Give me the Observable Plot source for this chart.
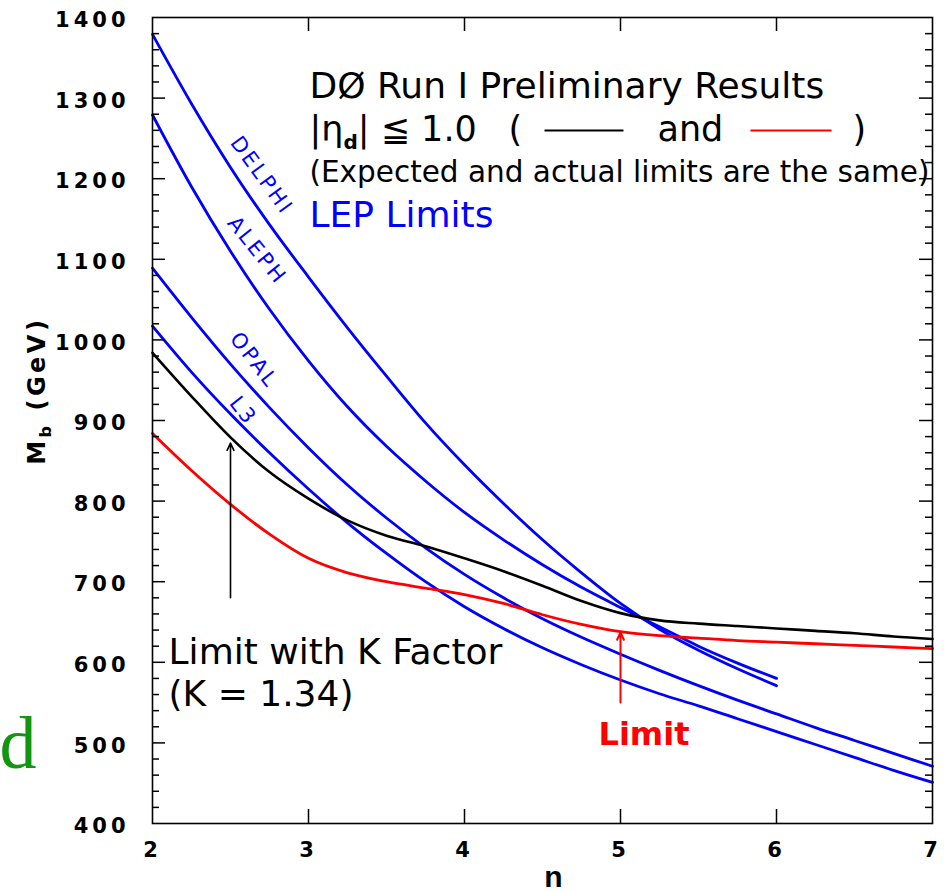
<!DOCTYPE html>
<html>
<head>
<meta charset="utf-8">
<script src="https://cdn.jsdelivr.net/npm/d3@7"></script>
<script src="https://cdn.jsdelivr.net/npm/@observablehq/plot@0.6"></script>
<style>
  body { margin: 0; background: #fff; }
  svg { display: block; }
</style>
</head>
<body>
<div id="chart"></div>
<script>
// ---- data ----
const nValues = [2, 2.25, 2.5, 2.75, 3, 3.25, 3.5, 3.75, 4, 4.25, 4.5, 4.75, 5, 5.25, 5.5, 5.75, 6, 6.25, 6.5, 6.75, 7];
const delphi = [1379, 1293, 1214, 1143, 1078, 1015, 955, 897, 845, 797, 752, 711, 673, 641, 615, 592, 571];
const aleph  = [1279, 1190, 1110, 1038, 974, 917, 868, 825, 786, 752, 721, 693, 668, 644, 620, 599, 580];
const opal   = [1089, 1028, 970, 916, 866, 820, 779, 742, 709, 680, 654, 631, 610, 590, 571, 553, 536, 519, 503, 487, 471];
const l3     = [1017, 960, 908, 860, 815, 773, 735, 700, 669, 642, 618, 597, 578, 561, 546, 530, 514, 498, 482, 466, 451];
const kFactorLimit = [984, 930, 879, 836, 803, 776, 757, 744, 729, 713, 695, 676, 661, 652, 648, 645, 642, 639, 636, 632, 629];
const limit        = [884, 838, 796, 759, 729, 711, 700, 692, 684, 673, 659, 647, 638, 633, 630, 627, 625, 623, 621, 619, 617];

const xTickValues = [2, 3, 4, 5, 6, 7];
const yTickValues = [400, 500, 600, 700, 800, 900, 1000, 1100, 1200, 1300, 1400];

// LEP curve labels (position in n / GeV, rotation in degrees)
const lepLabels = [
  {text: "DELPHI", n: 2.70, m: 1204, angle: 54},
  {text: "ALEPH",  n: 2.67, m: 1111, angle: 51},
  {text: "OPAL",   n: 2.65, m: 975,  angle: 52},
  {text: "L3",     n: 2.58, m: 912,  angle: 52}
];
// header text block
const headerBlack = [
  {text: "DØ Run I Preliminary Results", n: 3.006, m: 1300.7, size: 36},
  {text: "|ηd| ≦ 1.0", n: 3.006, m: 1246.2, size: 35},
  {text: "(", n: 4.282, m: 1246.2, size: 35},
  {text: "and", n: 5.237, m: 1246.2, size: 35},
  {text: ")", n: 6.487, m: 1246.2, size: 35},
  {text: "(Expected and actual limits are the same)", n: 3.006, m: 1195.3, size: 29.5},
  {text: "Limit with K Factor", n: 2.103, m: 598.5, size: 36},
  {text: "(K = 1.34)", n: 2.103, m: 546.4, size: 36}
];
const headerBlue = [{text: "LEP Limits", n: 3.006, m: 1139.5, size: 36}];
const redLabel = [{text: "Limit", n: 4.859, m: 496.8, size: 32}];
const legendSegments = [
  {color: "black", n1: 4.513, n2: 5.019, m: 1259.8},
  {color: "red",   n1: 5.833, n2: 6.353, m: 1259.8}
];
const arrows = [
  {color: "black", n: 2.5, m1: 680, m2: 872, w: 1.6},
  {color: "red",   n: 5.0, m1: 550, m2: 637, w: 2}
];
const axisLabels = {x: {text: "n", n: 4.57, m: 321}, y: {text: "Mb (GeV)", n: 1.263, m: 937}};
const strayLetter = [{text: "d", n: 1.256, m: 468.3}];

// ---- build rows ----
function rows(values, series) {
  return values.map((m, i) => ({n: nValues[i], m, series}));
}
const lepRows = [...rows(delphi, "DELPHI"), ...rows(aleph, "ALEPH"), ...rows(opal, "OPAL"), ...rows(l3, "L3")];
const kRows = rows(kFactorLimit, "K");
const limitRows = rows(limit, "Limit");

const yMinor = d3.range(420, 1400, 20).filter(v => v % 100 !== 0);
const yMajorInner = yTickValues.filter(v => v > 400 && v < 1400);
const xInner = xTickValues.filter(v => v > 2 && v < 7);

const innerW = 948 - 152 - 16;
const innerH = 893 - 17 - 70;
const FONT = "DejaVu Sans, sans-serif";

const chart = Plot.plot({
  width: 948,
  height: 893,
  marginLeft: 152,
  marginRight: 16,
  marginTop: 17,
  marginBottom: 70,
  x: {domain: [2, 7]},
  y: {domain: [400, 1400]},
  style: {background: "white", fontFamily: FONT, overflow: "visible"},
  marks: [
    // curves
    Plot.line(lepRows, {x: "n", y: "m", z: "series", stroke: "#0000ff", strokeWidth: 2.8, curve: "monotone-x"}),
    Plot.line(kRows, {x: "n", y: "m", stroke: "black", strokeWidth: 2.6, curve: "monotone-x"}),
    Plot.line(limitRows, {x: "n", y: "m", stroke: "#ff0000", strokeWidth: 2.8, curve: "monotone-x"}),
    // frame & inward ticks
    Plot.frame({stroke: "black", strokeWidth: 1.6}),
    Plot.tickY(yMinor, {y: d => d, insetRight: innerW - 7, stroke: "black", strokeWidth: 1.5}),
    Plot.tickY(yMinor, {y: d => d, insetLeft: innerW - 7, stroke: "black", strokeWidth: 1.5}),
    Plot.tickY(yMajorInner, {y: d => d, insetRight: innerW - 13, stroke: "black", strokeWidth: 1.5}),
    Plot.tickY(yMajorInner, {y: d => d, insetLeft: innerW - 13, stroke: "black", strokeWidth: 1.5}),
    Plot.tickX(xInner, {x: d => d, insetTop: innerH - 14, stroke: "black", strokeWidth: 1.5}),
    Plot.tickX(xInner, {x: d => d, insetBottom: innerH - 14, stroke: "black", strokeWidth: 1.5}),
    // axes (labels only)
    Plot.axisX(xTickValues, {anchor: "bottom", tickSize: 0, tickPadding: 19, fontSize: 21, fontWeight: "bold", fontFamily: FONT, tickFormat: d => `${d}`, label: null}),
    Plot.axisY(yTickValues, {anchor: "left", tickSize: 0, tickPadding: 23, fontSize: 21, fontWeight: "bold", fontFamily: FONT, tickFormat: d => `${d}`, label: null, dy: 3}),
    Plot.text([axisLabels.x], {x: "n", y: "m", text: "text", lineAnchor: "bottom", fontSize: 30, fontWeight: "bold", fontFamily: "Liberation Sans Narrow, Liberation Sans, sans-serif"}),
    Plot.text([axisLabels.y], {x: "n", y: "m", text: "text", rotate: -90, fontSize: 24, fontWeight: "bold", fontFamily: FONT}),
    // annotations
    Plot.text(lepLabels, {x: "n", y: "m", text: "text", rotate: "angle", fill: "#0000ff", fontSize: 21, fontFamily: FONT}),
    Plot.text(headerBlack, {x: "n", y: "m", text: "text", fontSize: "size", textAnchor: "start", lineAnchor: "bottom", fill: "black", fontFamily: FONT}),
    Plot.text(headerBlue, {x: "n", y: "m", text: "text", fontSize: "size", textAnchor: "start", lineAnchor: "bottom", fill: "#0000ff", fontFamily: FONT}),
    Plot.text(redLabel, {x: "n", y: "m", text: "text", fontSize: "size", textAnchor: "start", lineAnchor: "bottom", fill: "#ff0000", fontWeight: "bold", fontFamily: FONT}),
    Plot.link(legendSegments, {x1: "n1", x2: "n2", y1: "m", y2: "m", stroke: "color", strokeWidth: 2}),
    Plot.arrow(arrows, {x1: "n", x2: "n", y1: "m1", y2: "m2", stroke: "color", strokeWidth: "w", headLength: 12, headAngle: 50}),
    Plot.text(strayLetter, {x: "n", y: "m", text: "text", textAnchor: "end", lineAnchor: "bottom", fontSize: 74, fill: "#129612", fontFamily: "Liberation Serif, serif"})
  ]
});

// ---- typographic touches (sizes, letter spacing, subscripts) ----
const NS = "http://www.w3.org/2000/svg";
chart.querySelectorAll('g[aria-label="y-axis tick label"] text, g[aria-label="x-axis tick label"] text')
  .forEach(t => { t.setAttribute("letter-spacing", "4"); t.setAttribute("font-size", "21"); t.setAttribute("font-weight", "bold"); });
chart.querySelectorAll("text").forEach(t => {
  const s = t.textContent;
  if (s === "Mb (GeV)") {
    t.textContent = "";
    t.setAttribute("letter-spacing", "3.5");
    const a = document.createElementNS(NS, "tspan"); a.textContent = "M";
    const b = document.createElementNS(NS, "tspan"); b.textContent = "b"; b.setAttribute("dy", "6"); b.setAttribute("font-size", "16");
    const c = document.createElementNS(NS, "tspan"); c.textContent = " (GeV)"; c.setAttribute("dy", "-6");
    t.append(a, b, c);
  } else if (s === "|ηd| ≦ 1.0") {
    t.textContent = "";
    const a = document.createElementNS(NS, "tspan"); a.textContent = "|η";
    const b = document.createElementNS(NS, "tspan"); b.textContent = "d"; b.setAttribute("dy", "8"); b.setAttribute("font-size", "20"); b.setAttribute("font-weight", "bold");
    const c = document.createElementNS(NS, "tspan"); c.textContent = "| ≦ 1.0"; c.setAttribute("dy", "-8");
    t.append(a, b, c);
  } else if (["DELPHI", "ALEPH", "OPAL", "L3"].includes(s)) {
    t.setAttribute("letter-spacing", "2.5");
  }
});

document.getElementById("chart").appendChild(chart);
</script>
</body>
</html>
